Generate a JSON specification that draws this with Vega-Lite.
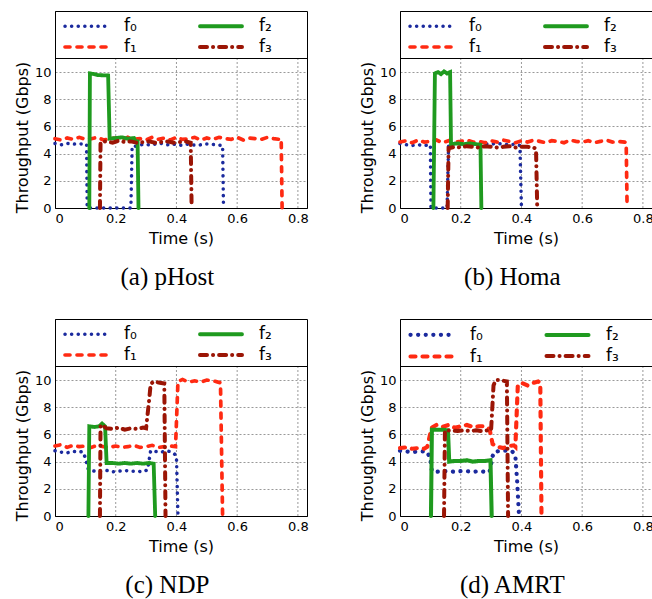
{
  "$schema": "https://vega.github.io/schema/vega-lite/v6.json",
  "padding": {"left": 13, "top": 10, "right": 0, "bottom": 0},
  "background": "white",
  "datasets": {
    "grid": [{"g": 0.2}, {"g": 0.4}, {"g": 0.6}, {"g": 0.8}],
    "one": [{"k": 1}],
    "tp": [
      {"p":"a","s":"f₀","t":0,"v":4.75},{"p":"a","s":"f₀","t":0.02,"v":4.65},{"p":"a","s":"f₀","t":0.04,"v":4.75},{"p":"a","s":"f₀","t":0.06,"v":4.7},{"p":"a","s":"f₀","t":0.08,"v":4.72},{"p":"a","s":"f₀","t":0.1,"v":4.7},{"p":"a","s":"f₀","t":0.104,"v":4.7},{"p":"a","s":"f₀","t":0.106,"v":0},{"p":"a","s":"f₀","t":0.25,"v":0},{"p":"a","s":"f₀","t":0.254,"v":4.55},{"p":"a","s":"f₀","t":0.27,"v":4.55},{"p":"a","s":"f₀","t":0.29,"v":4.7},{"p":"a","s":"f₀","t":0.31,"v":4.65},{"p":"a","s":"f₀","t":0.33,"v":4.7},{"p":"a","s":"f₀","t":0.35,"v":4.75},{"p":"a","s":"f₀","t":0.37,"v":4.65},{"p":"a","s":"f₀","t":0.39,"v":4.7},{"p":"a","s":"f₀","t":0.41,"v":4.6},{"p":"a","s":"f₀","t":0.43,"v":4.7},{"p":"a","s":"f₀","t":0.45,"v":4.65},{"p":"a","s":"f₀","t":0.47,"v":4.6},{"p":"a","s":"f₀","t":0.49,"v":4.7},{"p":"a","s":"f₀","t":0.51,"v":4.7},{"p":"a","s":"f₀","t":0.53,"v":4.65},{"p":"a","s":"f₀","t":0.552,"v":4.6},{"p":"a","s":"f₀","t":0.555,"v":0},
      {"p":"a","s":"f₁","t":0,"v":5.1},{"p":"a","s":"f₁","t":0.02,"v":5.0},{"p":"a","s":"f₁","t":0.04,"v":5.15},{"p":"a","s":"f₁","t":0.06,"v":5.05},{"p":"a","s":"f₁","t":0.08,"v":5.2},{"p":"a","s":"f₁","t":0.1,"v":5.05},{"p":"a","s":"f₁","t":0.12,"v":5.1},{"p":"a","s":"f₁","t":0.14,"v":5.2},{"p":"a","s":"f₁","t":0.16,"v":5.0},{"p":"a","s":"f₁","t":0.18,"v":5.1},{"p":"a","s":"f₁","t":0.2,"v":5.15},{"p":"a","s":"f₁","t":0.22,"v":5.0},{"p":"a","s":"f₁","t":0.24,"v":5.2},{"p":"a","s":"f₁","t":0.26,"v":5.05},{"p":"a","s":"f₁","t":0.28,"v":5.1},{"p":"a","s":"f₁","t":0.3,"v":5.0},{"p":"a","s":"f₁","t":0.32,"v":5.2},{"p":"a","s":"f₁","t":0.34,"v":5.05},{"p":"a","s":"f₁","t":0.36,"v":5.15},{"p":"a","s":"f₁","t":0.38,"v":5.0},{"p":"a","s":"f₁","t":0.4,"v":5.2},{"p":"a","s":"f₁","t":0.42,"v":5.05},{"p":"a","s":"f₁","t":0.44,"v":5.1},{"p":"a","s":"f₁","t":0.46,"v":5.2},{"p":"a","s":"f₁","t":0.48,"v":5.0},{"p":"a","s":"f₁","t":0.5,"v":5.15},{"p":"a","s":"f₁","t":0.52,"v":5.05},{"p":"a","s":"f₁","t":0.54,"v":5.2},{"p":"a","s":"f₁","t":0.56,"v":5.1},{"p":"a","s":"f₁","t":0.58,"v":5.05},{"p":"a","s":"f₁","t":0.6,"v":5.2},{"p":"a","s":"f₁","t":0.62,"v":5.0},{"p":"a","s":"f₁","t":0.64,"v":5.15},{"p":"a","s":"f₁","t":0.66,"v":5.1},{"p":"a","s":"f₁","t":0.68,"v":5.05},{"p":"a","s":"f₁","t":0.7,"v":5.2},{"p":"a","s":"f₁","t":0.72,"v":5.1},{"p":"a","s":"f₁","t":0.74,"v":5.05},{"p":"a","s":"f₁","t":0.745,"v":5.1},{"p":"a","s":"f₁","t":0.748,"v":0},
      {"p":"a","s":"f₂","t":0.113,"v":0},{"p":"a","s":"f₂","t":0.115,"v":9.9},{"p":"a","s":"f₂","t":0.13,"v":9.85},{"p":"a","s":"f₂","t":0.14,"v":9.78},{"p":"a","s":"f₂","t":0.175,"v":9.75},{"p":"a","s":"f₂","t":0.18,"v":5.1},{"p":"a","s":"f₂","t":0.2,"v":5.15},{"p":"a","s":"f₂","t":0.22,"v":5.2},{"p":"a","s":"f₂","t":0.24,"v":5.1},{"p":"a","s":"f₂","t":0.26,"v":5.15},{"p":"a","s":"f₂","t":0.265,"v":4.9},{"p":"a","s":"f₂","t":0.272,"v":4.9},{"p":"a","s":"f₂","t":0.275,"v":0},
      {"p":"a","s":"f₃","t":0.148,"v":0},{"p":"a","s":"f₃","t":0.15,"v":4.85},{"p":"a","s":"f₃","t":0.17,"v":4.9},{"p":"a","s":"f₃","t":0.19,"v":4.8},{"p":"a","s":"f₃","t":0.21,"v":4.95},{"p":"a","s":"f₃","t":0.23,"v":4.85},{"p":"a","s":"f₃","t":0.25,"v":4.9},{"p":"a","s":"f₃","t":0.27,"v":4.8},{"p":"a","s":"f₃","t":0.29,"v":4.85},{"p":"a","s":"f₃","t":0.31,"v":4.9},{"p":"a","s":"f₃","t":0.33,"v":4.8},{"p":"a","s":"f₃","t":0.35,"v":4.85},{"p":"a","s":"f₃","t":0.37,"v":4.9},{"p":"a","s":"f₃","t":0.39,"v":4.8},{"p":"a","s":"f₃","t":0.41,"v":4.85},{"p":"a","s":"f₃","t":0.43,"v":4.9},{"p":"a","s":"f₃","t":0.447,"v":4.8},{"p":"a","s":"f₃","t":0.45,"v":0},

      {"p":"b","s":"f₀","t":0,"v":4.75},{"p":"b","s":"f₀","t":0.02,"v":4.65},{"p":"b","s":"f₀","t":0.04,"v":4.6},{"p":"b","s":"f₀","t":0.06,"v":4.65},{"p":"b","s":"f₀","t":0.08,"v":4.6},{"p":"b","s":"f₀","t":0.1,"v":4.65},{"p":"b","s":"f₀","t":0.102,"v":0},{"p":"b","s":"f₀","t":0.155,"v":0},{"p":"b","s":"f₀","t":0.16,"v":4.6},{"p":"b","s":"f₀","t":0.18,"v":4.75},{"p":"b","s":"f₀","t":0.2,"v":4.7},{"p":"b","s":"f₀","t":0.22,"v":4.75},{"p":"b","s":"f₀","t":0.24,"v":4.7},{"p":"b","s":"f₀","t":0.26,"v":4.75},{"p":"b","s":"f₀","t":0.28,"v":4.7},{"p":"b","s":"f₀","t":0.3,"v":4.7},{"p":"b","s":"f₀","t":0.32,"v":4.75},{"p":"b","s":"f₀","t":0.34,"v":4.7},{"p":"b","s":"f₀","t":0.36,"v":4.65},{"p":"b","s":"f₀","t":0.38,"v":4.7},{"p":"b","s":"f₀","t":0.395,"v":4.6},{"p":"b","s":"f₀","t":0.4,"v":0},
      {"p":"b","s":"f₁","t":0,"v":4.85},{"p":"b","s":"f₁","t":0.02,"v":4.95},{"p":"b","s":"f₁","t":0.04,"v":4.8},{"p":"b","s":"f₁","t":0.06,"v":5.0},{"p":"b","s":"f₁","t":0.08,"v":4.85},{"p":"b","s":"f₁","t":0.1,"v":4.9},{"p":"b","s":"f₁","t":0.12,"v":5.0},{"p":"b","s":"f₁","t":0.14,"v":4.8},{"p":"b","s":"f₁","t":0.16,"v":4.95},{"p":"b","s":"f₁","t":0.18,"v":4.85},{"p":"b","s":"f₁","t":0.2,"v":4.9},{"p":"b","s":"f₁","t":0.22,"v":5.0},{"p":"b","s":"f₁","t":0.24,"v":4.85},{"p":"b","s":"f₁","t":0.26,"v":4.9},{"p":"b","s":"f₁","t":0.28,"v":4.8},{"p":"b","s":"f₁","t":0.3,"v":4.95},{"p":"b","s":"f₁","t":0.32,"v":4.85},{"p":"b","s":"f₁","t":0.34,"v":5.0},{"p":"b","s":"f₁","t":0.36,"v":4.9},{"p":"b","s":"f₁","t":0.38,"v":4.8},{"p":"b","s":"f₁","t":0.4,"v":4.95},{"p":"b","s":"f₁","t":0.42,"v":4.85},{"p":"b","s":"f₁","t":0.44,"v":5.0},{"p":"b","s":"f₁","t":0.46,"v":4.9},{"p":"b","s":"f₁","t":0.48,"v":4.8},{"p":"b","s":"f₁","t":0.5,"v":4.95},{"p":"b","s":"f₁","t":0.52,"v":4.9},{"p":"b","s":"f₁","t":0.54,"v":4.8},{"p":"b","s":"f₁","t":0.56,"v":5.0},{"p":"b","s":"f₁","t":0.58,"v":4.9},{"p":"b","s":"f₁","t":0.6,"v":4.85},{"p":"b","s":"f₁","t":0.62,"v":4.95},{"p":"b","s":"f₁","t":0.64,"v":4.8},{"p":"b","s":"f₁","t":0.66,"v":4.9},{"p":"b","s":"f₁","t":0.68,"v":5.0},{"p":"b","s":"f₁","t":0.7,"v":4.85},{"p":"b","s":"f₁","t":0.72,"v":4.9},{"p":"b","s":"f₁","t":0.74,"v":4.85},{"p":"b","s":"f₁","t":0.745,"v":4.8},{"p":"b","s":"f₁","t":0.748,"v":0},
      {"p":"b","s":"f₂","t":0.11,"v":0},{"p":"b","s":"f₂","t":0.115,"v":9.9},{"p":"b","s":"f₂","t":0.125,"v":10.0},{"p":"b","s":"f₂","t":0.135,"v":9.85},{"p":"b","s":"f₂","t":0.145,"v":10.05},{"p":"b","s":"f₂","t":0.155,"v":9.9},{"p":"b","s":"f₂","t":0.165,"v":10.0},{"p":"b","s":"f₂","t":0.168,"v":4.7},{"p":"b","s":"f₂","t":0.19,"v":4.75},{"p":"b","s":"f₂","t":0.21,"v":4.7},{"p":"b","s":"f₂","t":0.23,"v":4.75},{"p":"b","s":"f₂","t":0.25,"v":4.7},{"p":"b","s":"f₂","t":0.265,"v":4.65},{"p":"b","s":"f₂","t":0.268,"v":0},
      {"p":"b","s":"f₃","t":0.157,"v":0},{"p":"b","s":"f₃","t":0.16,"v":4.4},{"p":"b","s":"f₃","t":0.18,"v":4.5},{"p":"b","s":"f₃","t":0.2,"v":4.45},{"p":"b","s":"f₃","t":0.22,"v":4.55},{"p":"b","s":"f₃","t":0.24,"v":4.5},{"p":"b","s":"f₃","t":0.26,"v":4.45},{"p":"b","s":"f₃","t":0.28,"v":4.55},{"p":"b","s":"f₃","t":0.3,"v":4.5},{"p":"b","s":"f₃","t":0.32,"v":4.45},{"p":"b","s":"f₃","t":0.34,"v":4.5},{"p":"b","s":"f₃","t":0.36,"v":4.55},{"p":"b","s":"f₃","t":0.38,"v":4.45},{"p":"b","s":"f₃","t":0.4,"v":4.5},{"p":"b","s":"f₃","t":0.42,"v":4.5},{"p":"b","s":"f₃","t":0.44,"v":4.45},{"p":"b","s":"f₃","t":0.448,"v":4.35},{"p":"b","s":"f₃","t":0.452,"v":0},

      {"p":"c","s":"f₀","t":0,"v":4.8},{"p":"c","s":"f₀","t":0.02,"v":4.7},{"p":"c","s":"f₀","t":0.04,"v":4.65},{"p":"c","s":"f₀","t":0.06,"v":4.75},{"p":"c","s":"f₀","t":0.08,"v":4.7},{"p":"c","s":"f₀","t":0.09,"v":4.75},{"p":"c","s":"f₀","t":0.1,"v":4.3},{"p":"c","s":"f₀","t":0.11,"v":3.4},{"p":"c","s":"f₀","t":0.13,"v":3.3},{"p":"c","s":"f₀","t":0.15,"v":3.3},{"p":"c","s":"f₀","t":0.17,"v":3.35},{"p":"c","s":"f₀","t":0.19,"v":3.25},{"p":"c","s":"f₀","t":0.21,"v":3.3},{"p":"c","s":"f₀","t":0.23,"v":3.35},{"p":"c","s":"f₀","t":0.25,"v":3.3},{"p":"c","s":"f₀","t":0.27,"v":3.3},{"p":"c","s":"f₀","t":0.29,"v":3.25},{"p":"c","s":"f₀","t":0.305,"v":3.4},{"p":"c","s":"f₀","t":0.315,"v":4.8},{"p":"c","s":"f₀","t":0.33,"v":4.75},{"p":"c","s":"f₀","t":0.35,"v":4.7},{"p":"c","s":"f₀","t":0.37,"v":4.8},{"p":"c","s":"f₀","t":0.39,"v":4.65},{"p":"c","s":"f₀","t":0.4,"v":4.4},{"p":"c","s":"f₀","t":0.405,"v":0},
      {"p":"c","s":"f₁","t":0,"v":5.15},{"p":"c","s":"f₁","t":0.02,"v":5.25},{"p":"c","s":"f₁","t":0.04,"v":5.05},{"p":"c","s":"f₁","t":0.06,"v":5.2},{"p":"c","s":"f₁","t":0.08,"v":5.1},{"p":"c","s":"f₁","t":0.1,"v":5.15},{"p":"c","s":"f₁","t":0.12,"v":5.05},{"p":"c","s":"f₁","t":0.14,"v":5.2},{"p":"c","s":"f₁","t":0.16,"v":5.1},{"p":"c","s":"f₁","t":0.18,"v":5.05},{"p":"c","s":"f₁","t":0.2,"v":5.15},{"p":"c","s":"f₁","t":0.22,"v":5.05},{"p":"c","s":"f₁","t":0.24,"v":5.1},{"p":"c","s":"f₁","t":0.26,"v":5.2},{"p":"c","s":"f₁","t":0.28,"v":5.05},{"p":"c","s":"f₁","t":0.3,"v":5.1},{"p":"c","s":"f₁","t":0.32,"v":5.2},{"p":"c","s":"f₁","t":0.34,"v":5.05},{"p":"c","s":"f₁","t":0.36,"v":5.1},{"p":"c","s":"f₁","t":0.38,"v":5.15},{"p":"c","s":"f₁","t":0.397,"v":5.1},{"p":"c","s":"f₁","t":0.405,"v":9.9},{"p":"c","s":"f₁","t":0.42,"v":10.05},{"p":"c","s":"f₁","t":0.44,"v":9.85},{"p":"c","s":"f₁","t":0.46,"v":9.95},{"p":"c","s":"f₁","t":0.48,"v":9.85},{"p":"c","s":"f₁","t":0.5,"v":10.0},{"p":"c","s":"f₁","t":0.52,"v":9.95},{"p":"c","s":"f₁","t":0.545,"v":9.8},{"p":"c","s":"f₁","t":0.552,"v":0},
      {"p":"c","s":"f₂","t":0.11,"v":0},{"p":"c","s":"f₂","t":0.113,"v":6.6},{"p":"c","s":"f₂","t":0.13,"v":6.55},{"p":"c","s":"f₂","t":0.145,"v":6.6},{"p":"c","s":"f₂","t":0.155,"v":6.8},{"p":"c","s":"f₂","t":0.165,"v":6.6},{"p":"c","s":"f₂","t":0.17,"v":3.9},{"p":"c","s":"f₂","t":0.19,"v":3.9},{"p":"c","s":"f₂","t":0.21,"v":3.85},{"p":"c","s":"f₂","t":0.23,"v":3.9},{"p":"c","s":"f₂","t":0.25,"v":3.85},{"p":"c","s":"f₂","t":0.27,"v":3.9},{"p":"c","s":"f₂","t":0.29,"v":3.85},{"p":"c","s":"f₂","t":0.31,"v":3.9},{"p":"c","s":"f₂","t":0.325,"v":3.85},{"p":"c","s":"f₂","t":0.33,"v":0},
      {"p":"c","s":"f₃","t":0.148,"v":0},{"p":"c","s":"f₃","t":0.15,"v":6.7},{"p":"c","s":"f₃","t":0.16,"v":6.6},{"p":"c","s":"f₃","t":0.17,"v":6.45},{"p":"c","s":"f₃","t":0.19,"v":6.4},{"p":"c","s":"f₃","t":0.21,"v":6.5},{"p":"c","s":"f₃","t":0.23,"v":6.35},{"p":"c","s":"f₃","t":0.25,"v":6.45},{"p":"c","s":"f₃","t":0.27,"v":6.4},{"p":"c","s":"f₃","t":0.29,"v":6.5},{"p":"c","s":"f₃","t":0.3,"v":6.45},{"p":"c","s":"f₃","t":0.31,"v":8.5},{"p":"c","s":"f₃","t":0.315,"v":9.7},{"p":"c","s":"f₃","t":0.325,"v":9.9},{"p":"c","s":"f₃","t":0.345,"v":9.8},{"p":"c","s":"f₃","t":0.36,"v":9.75},{"p":"c","s":"f₃","t":0.364,"v":0},

      {"p":"d","s":"f₀","t":0,"v":4.8},{"p":"d","s":"f₀","t":0.02,"v":4.75},{"p":"d","s":"f₀","t":0.04,"v":4.7},{"p":"d","s":"f₀","t":0.06,"v":4.75},{"p":"d","s":"f₀","t":0.08,"v":4.75},{"p":"d","s":"f₀","t":0.09,"v":4.7},{"p":"d","s":"f₀","t":0.1,"v":4.2},{"p":"d","s":"f₀","t":0.105,"v":3.3},{"p":"d","s":"f₀","t":0.12,"v":3.25},{"p":"d","s":"f₀","t":0.14,"v":3.3},{"p":"d","s":"f₀","t":0.16,"v":3.3},{"p":"d","s":"f₀","t":0.18,"v":3.25},{"p":"d","s":"f₀","t":0.2,"v":3.3},{"p":"d","s":"f₀","t":0.22,"v":3.3},{"p":"d","s":"f₀","t":0.24,"v":3.25},{"p":"d","s":"f₀","t":0.26,"v":3.3},{"p":"d","s":"f₀","t":0.28,"v":3.25},{"p":"d","s":"f₀","t":0.295,"v":3.25},{"p":"d","s":"f₀","t":0.305,"v":4.4},{"p":"d","s":"f₀","t":0.31,"v":4.7},{"p":"d","s":"f₀","t":0.33,"v":4.8},{"p":"d","s":"f₀","t":0.35,"v":4.8},{"p":"d","s":"f₀","t":0.37,"v":4.75},{"p":"d","s":"f₀","t":0.38,"v":4.4},{"p":"d","s":"f₀","t":0.386,"v":2.5},{"p":"d","s":"f₀","t":0.392,"v":0},
      {"p":"d","s":"f₁","t":0,"v":5.0},{"p":"d","s":"f₁","t":0.02,"v":5.05},{"p":"d","s":"f₁","t":0.04,"v":4.95},{"p":"d","s":"f₁","t":0.06,"v":5.0},{"p":"d","s":"f₁","t":0.08,"v":4.95},{"p":"d","s":"f₁","t":0.09,"v":5.1},{"p":"d","s":"f₁","t":0.1,"v":6.1},{"p":"d","s":"f₁","t":0.105,"v":6.5},{"p":"d","s":"f₁","t":0.12,"v":6.7},{"p":"d","s":"f₁","t":0.14,"v":6.55},{"p":"d","s":"f₁","t":0.16,"v":6.7},{"p":"d","s":"f₁","t":0.18,"v":6.5},{"p":"d","s":"f₁","t":0.2,"v":6.6},{"p":"d","s":"f₁","t":0.22,"v":6.7},{"p":"d","s":"f₁","t":0.24,"v":6.55},{"p":"d","s":"f₁","t":0.26,"v":6.6},{"p":"d","s":"f₁","t":0.28,"v":6.6},{"p":"d","s":"f₁","t":0.295,"v":6.4},{"p":"d","s":"f₁","t":0.305,"v":5.3},{"p":"d","s":"f₁","t":0.32,"v":5.1},{"p":"d","s":"f₁","t":0.34,"v":5.0},{"p":"d","s":"f₁","t":0.36,"v":5.15},{"p":"d","s":"f₁","t":0.375,"v":5.2},{"p":"d","s":"f₁","t":0.38,"v":5.1},{"p":"d","s":"f₁","t":0.388,"v":9.6},{"p":"d","s":"f₁","t":0.4,"v":9.8},{"p":"d","s":"f₁","t":0.42,"v":9.6},{"p":"d","s":"f₁","t":0.44,"v":9.8},{"p":"d","s":"f₁","t":0.455,"v":9.9},{"p":"d","s":"f₁","t":0.462,"v":9.8},{"p":"d","s":"f₁","t":0.466,"v":0},
      {"p":"d","s":"f₂","t":0.102,"v":0},{"p":"d","s":"f₂","t":0.105,"v":6.35},{"p":"d","s":"f₂","t":0.12,"v":6.35},{"p":"d","s":"f₂","t":0.14,"v":6.35},{"p":"d","s":"f₂","t":0.158,"v":6.3},{"p":"d","s":"f₂","t":0.162,"v":4.0},{"p":"d","s":"f₂","t":0.18,"v":4.05},{"p":"d","s":"f₂","t":0.2,"v":4.05},{"p":"d","s":"f₂","t":0.22,"v":4.1},{"p":"d","s":"f₂","t":0.24,"v":4.0},{"p":"d","s":"f₂","t":0.26,"v":4.05},{"p":"d","s":"f₂","t":0.28,"v":4.05},{"p":"d","s":"f₂","t":0.298,"v":4.1},{"p":"d","s":"f₂","t":0.302,"v":0},
      {"p":"d","s":"f₃","t":0.145,"v":0},{"p":"d","s":"f₃","t":0.148,"v":6.3},{"p":"d","s":"f₃","t":0.17,"v":6.3},{"p":"d","s":"f₃","t":0.19,"v":6.25},{"p":"d","s":"f₃","t":0.21,"v":6.3},{"p":"d","s":"f₃","t":0.23,"v":6.25},{"p":"d","s":"f₃","t":0.25,"v":6.3},{"p":"d","s":"f₃","t":0.27,"v":6.25},{"p":"d","s":"f₃","t":0.29,"v":6.3},{"p":"d","s":"f₃","t":0.3,"v":6.3},{"p":"d","s":"f₃","t":0.308,"v":9.6},{"p":"d","s":"f₃","t":0.315,"v":10.0},{"p":"d","s":"f₃","t":0.325,"v":10.0},{"p":"d","s":"f₃","t":0.34,"v":9.95},{"p":"d","s":"f₃","t":0.352,"v":9.9},{"p":"d","s":"f₃","t":0.356,"v":0}
    ]
  },
  "spacing": 27,
  "resolve": {"scale": {"color": "independent", "strokeDash": "independent", "strokeWidth": "independent"}, "legend": {"color": "independent", "strokeDash": "independent", "strokeWidth": "independent"}},
  "vconcat": [
    {
      "spacing": 49,
      "resolve": {"scale": {"color": "independent", "strokeDash": "independent", "strokeWidth": "independent"}, "legend": {"color": "independent", "strokeDash": "independent", "strokeWidth": "independent"}},
      "hconcat": [
        {
          "width": 252, "height": 197,
          "title": {"text": "(a) pHost"},
          "layer": [
            {"data": {"name": "grid"}, "mark": {"type": "rule", "color": "#999999", "strokeDash": [2, 2], "strokeWidth": 1},
             "encoding": {"x": {"field": "g", "type": "quantitative", "scale": {"domain": [0, 0.83], "nice": false, "zero": false}, "axis": {"values": [0, 0.2, 0.4, 0.6, 0.8], "format": "~g", "title": "Time (s)"}},
                          "y": {"datum": 0, "type": "quantitative", "scale": {"domain": [0, 14.495], "nice": false}, "axis": {"values": [0, 2, 4, 6, 8, 10], "title": "Throughput (Gbps)"}}, "y2": {"datum": 11}}},
            {"data": {"name": "one"}, "mark": {"type": "rule", "stroke": "black", "strokeWidth": 1},
             "encoding": {"y": {"datum": 11, "type": "quantitative", "scale": {"domain": [0, 14.495], "nice": false}, "axis": {"values": [0, 2, 4, 6, 8, 10], "title": "Throughput (Gbps)"}}}},
            {"data": {"name": "tp"}, "transform": [{"filter": "datum.p === 'a'"}], "mark": {"type": "line", "strokeCap": "round"},
             "encoding": {
               "x": {"field": "t", "type": "quantitative", "scale": {"domain": [0, 0.83], "nice": false, "zero": false}, "axis": {"values": [0, 0.2, 0.4, 0.6, 0.8], "format": "~g", "title": "Time (s)"}},
               "y": {"field": "v", "type": "quantitative", "scale": {"domain": [0, 14.495], "nice": false}, "axis": {"values": [0, 2, 4, 6, 8, 10], "title": "Throughput (Gbps)"}},
               "color": {"field": "s", "type": "nominal", "scale": {"domain": ["f₀", "f₁", "f₂", "f₃"], "range": ["#1b2a9e", "#ff2a12", "#1f9a1f", "#9b1505"]}, "legend": {"title": null, "encode": {"symbols": {"update": {"strokeCap": {"value": "round"}}}}}},
               "strokeDash": {"field": "s", "type": "nominal", "scale": {"domain": ["f₀", "f₁", "f₂", "f₃"], "range": [[0.1, 6.5], [5, 7], [1, 0], [7, 6, 0.1, 6]]}, "legend": {"title": null, "encode": {"symbols": {"update": {"strokeCap": {"value": "round"}}}}}},
               "strokeWidth": {"field": "s", "type": "ordinal", "scale": {"domain": ["f₀", "f₁", "f₂", "f₃"], "range": [3.5, 4, 3, 3]}, "legend": {"title": null, "encode": {"symbols": {"update": {"strokeCap": {"value": "round"}}}}}}
             }}
          ]
        },
        {
          "width": 252, "height": 197,
          "title": {"text": "(b) Homa"},
          "layer": [
            {"data": {"name": "grid"}, "mark": {"type": "rule", "color": "#999999", "strokeDash": [2, 2], "strokeWidth": 1},
             "encoding": {"x": {"field": "g", "type": "quantitative", "scale": {"domain": [0, 0.83], "nice": false, "zero": false}, "axis": {"values": [0, 0.2, 0.4, 0.6, 0.8], "format": "~g", "title": "Time (s)"}},
                          "y": {"datum": 0, "type": "quantitative", "scale": {"domain": [0, 14.495], "nice": false}, "axis": {"values": [0, 2, 4, 6, 8, 10], "title": "Throughput (Gbps)"}}, "y2": {"datum": 11}}},
            {"data": {"name": "one"}, "mark": {"type": "rule", "stroke": "black", "strokeWidth": 1},
             "encoding": {"y": {"datum": 11, "type": "quantitative", "scale": {"domain": [0, 14.495], "nice": false}, "axis": {"values": [0, 2, 4, 6, 8, 10], "title": "Throughput (Gbps)"}}}},
            {"data": {"name": "tp"}, "transform": [{"filter": "datum.p === 'b'"}], "mark": {"type": "line", "strokeCap": "round"},
             "encoding": {
               "x": {"field": "t", "type": "quantitative", "scale": {"domain": [0, 0.83], "nice": false, "zero": false}, "axis": {"values": [0, 0.2, 0.4, 0.6, 0.8], "format": "~g", "title": "Time (s)"}},
               "y": {"field": "v", "type": "quantitative", "scale": {"domain": [0, 14.495], "nice": false}, "axis": {"values": [0, 2, 4, 6, 8, 10], "title": "Throughput (Gbps)"}},
               "color": {"field": "s", "type": "nominal", "scale": {"domain": ["f₀", "f₁", "f₂", "f₃"], "range": ["#1b2a9e", "#ff2a12", "#1f9a1f", "#9b1505"]}, "legend": {"title": null, "encode": {"symbols": {"update": {"strokeCap": {"value": "round"}}}}}},
               "strokeDash": {"field": "s", "type": "nominal", "scale": {"domain": ["f₀", "f₁", "f₂", "f₃"], "range": [[0.1, 6.5], [5, 7], [1, 0], [7, 6, 0.1, 6]]}, "legend": {"title": null, "encode": {"symbols": {"update": {"strokeCap": {"value": "round"}}}}}},
               "strokeWidth": {"field": "s", "type": "ordinal", "scale": {"domain": ["f₀", "f₁", "f₂", "f₃"], "range": [3.5, 4, 3, 3]}, "legend": {"title": null, "encode": {"symbols": {"update": {"strokeCap": {"value": "round"}}}}}}
             }}
          ]
        }
      ]
    },
    {
      "spacing": 49,
      "resolve": {"scale": {"color": "independent", "strokeDash": "independent", "strokeWidth": "independent"}, "legend": {"color": "independent", "strokeDash": "independent", "strokeWidth": "independent"}},
      "hconcat": [
        {
          "width": 252, "height": 197,
          "title": {"text": "(c) NDP"},
          "layer": [
            {"data": {"name": "grid"}, "mark": {"type": "rule", "color": "#999999", "strokeDash": [2, 2], "strokeWidth": 1},
             "encoding": {"x": {"field": "g", "type": "quantitative", "scale": {"domain": [0, 0.83], "nice": false, "zero": false}, "axis": {"values": [0, 0.2, 0.4, 0.6, 0.8], "format": "~g", "title": "Time (s)"}},
                          "y": {"datum": 0, "type": "quantitative", "scale": {"domain": [0, 14.495], "nice": false}, "axis": {"values": [0, 2, 4, 6, 8, 10], "title": "Throughput (Gbps)"}}, "y2": {"datum": 11}}},
            {"data": {"name": "one"}, "mark": {"type": "rule", "stroke": "black", "strokeWidth": 1},
             "encoding": {"y": {"datum": 11, "type": "quantitative", "scale": {"domain": [0, 14.495], "nice": false}, "axis": {"values": [0, 2, 4, 6, 8, 10], "title": "Throughput (Gbps)"}}}},
            {"data": {"name": "tp"}, "transform": [{"filter": "datum.p === 'c'"}], "mark": {"type": "line", "strokeCap": "round"},
             "encoding": {
               "x": {"field": "t", "type": "quantitative", "scale": {"domain": [0, 0.83], "nice": false, "zero": false}, "axis": {"values": [0, 0.2, 0.4, 0.6, 0.8], "format": "~g", "title": "Time (s)"}},
               "y": {"field": "v", "type": "quantitative", "scale": {"domain": [0, 14.495], "nice": false}, "axis": {"values": [0, 2, 4, 6, 8, 10], "title": "Throughput (Gbps)"}},
               "color": {"field": "s", "type": "nominal", "scale": {"domain": ["f₀", "f₁", "f₂", "f₃"], "range": ["#1b2a9e", "#ff2a12", "#1f9a1f", "#9b1505"]}, "legend": {"title": null, "encode": {"symbols": {"update": {"strokeCap": {"value": "round"}}}}}},
               "strokeDash": {"field": "s", "type": "nominal", "scale": {"domain": ["f₀", "f₁", "f₂", "f₃"], "range": [[0.1, 6.5], [5, 7], [1, 0], [7, 6, 0.1, 6]]}, "legend": {"title": null, "encode": {"symbols": {"update": {"strokeCap": {"value": "round"}}}}}},
               "strokeWidth": {"field": "s", "type": "ordinal", "scale": {"domain": ["f₀", "f₁", "f₂", "f₃"], "range": [3.5, 4, 3, 3]}, "legend": {"title": null, "encode": {"symbols": {"update": {"strokeCap": {"value": "round"}}}}}}
             }}
          ]
        },
        {
          "width": 252, "height": 197,
          "title": {"text": "(d) AMRT"},
          "layer": [
            {"data": {"name": "grid"}, "mark": {"type": "rule", "color": "#999999", "strokeDash": [2, 2], "strokeWidth": 1},
             "encoding": {"x": {"field": "g", "type": "quantitative", "scale": {"domain": [0, 0.83], "nice": false, "zero": false}, "axis": {"values": [0, 0.2, 0.4, 0.6, 0.8], "format": "~g", "title": "Time (s)"}},
                          "y": {"datum": 0, "type": "quantitative", "scale": {"domain": [0, 14.495], "nice": false}, "axis": {"values": [0, 2, 4, 6, 8, 10], "title": "Throughput (Gbps)"}}, "y2": {"datum": 11}}},
            {"data": {"name": "one"}, "mark": {"type": "rule", "stroke": "black", "strokeWidth": 1},
             "encoding": {"y": {"datum": 11, "type": "quantitative", "scale": {"domain": [0, 14.495], "nice": false}, "axis": {"values": [0, 2, 4, 6, 8, 10], "title": "Throughput (Gbps)"}}}},
            {"data": {"name": "tp"}, "transform": [{"filter": "datum.p === 'd'"}], "mark": {"type": "line", "strokeCap": "round"},
             "encoding": {
               "x": {"field": "t", "type": "quantitative", "scale": {"domain": [0, 0.83], "nice": false, "zero": false}, "axis": {"values": [0, 0.2, 0.4, 0.6, 0.8], "format": "~g", "title": "Time (s)"}},
               "y": {"field": "v", "type": "quantitative", "scale": {"domain": [0, 14.495], "nice": false}, "axis": {"values": [0, 2, 4, 6, 8, 10], "title": "Throughput (Gbps)"}},
               "color": {"field": "s", "type": "nominal", "scale": {"domain": ["f₀", "f₁", "f₂", "f₃"], "range": ["#1b2a9e", "#ff2a12", "#1f9a1f", "#9b1505"]}, "legend": {"title": null, "encode": {"symbols": {"update": {"strokeCap": {"value": "round"}}}}}},
               "strokeDash": {"field": "s", "type": "nominal", "scale": {"domain": ["f₀", "f₁", "f₂", "f₃"], "range": [[0.1, 7.5], [5, 7], [1, 0], [7, 6, 0.1, 6]]}, "legend": {"title": null, "encode": {"symbols": {"update": {"strokeCap": {"value": "round"}}}}}},
               "strokeWidth": {"field": "s", "type": "ordinal", "scale": {"domain": ["f₀", "f₁", "f₂", "f₃"], "range": [4.2, 4, 3, 3]}, "legend": {"title": null, "encode": {"symbols": {"update": {"strokeCap": {"value": "round"}}}}}}
             }}
          ]
        }
      ]
    }
  ],
  "config": {
    "view": {"stroke": "black", "strokeWidth": 1},
    "axis": {
      "domainColor": "black", "tickSize": 0, "labelPadding": 4,
      "labelFont": "DejaVu Sans", "labelFontSize": 13, "labelColor": "black",
      "titleFont": "DejaVu Sans", "titleFontSize": 16, "titleFontWeight": "normal", "titleColor": "black",
      "gridColor": "#999999", "gridDash": [2, 2], "gridOpacity": 1, "gridWidth": 1
    },
    "axisX": {"titlePadding": 5, "grid": false},
    "axisY": {"titlePadding": 4, "grid": true, "titleY": 126},
    "legend": {
      "orient": "none", "legendX": 8, "legendY": 2.5,
      "columns": 2, "symbolType": "M-1,0H3", "symbolSize": 441,
      "labelFont": "DejaVu Sans", "labelFontSize": 17, "labelColor": "black",
      "labelOffset": 36, "columnPadding": 55, "rowPadding": 0, "padding": 0
    },
    "title": {"font": "Liberation Serif", "fontSize": 25, "fontWeight": "normal", "color": "black", "orient": "bottom", "anchor": "middle", "frame": "bounds", "offset": 19, "dx": 6}
  }
}
